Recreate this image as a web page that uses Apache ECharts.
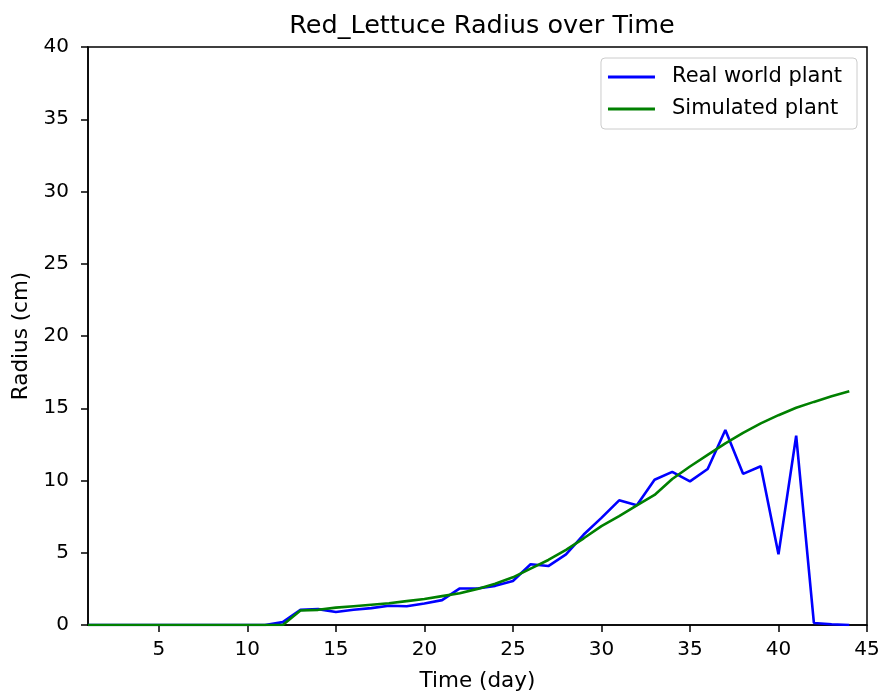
<!DOCTYPE html>
<html>
<head>
<meta charset="utf-8">
<script src="https://cdn.jsdelivr.net/npm/echarts@6/dist/echarts.min.js"></script>
<style>html,body{margin:0;padding:0;background:#fff}#c{width:883px;height:697px}</style>
</head>
<body>
<div id="c"></div>
<script>
const days = [1,2,3,4,5,6,7,8,9,10,11,12,13,14,15,16,17,18,19,20,21,22,23,24,25,26,27,28,29,30,31,32,33,34,35,36,37,38,39,40,41,42,43,44];
const realRadius = [0,0,0,0,0,0,0,0,0,0,0,0.2,1.05,1.1,0.9,1.05,1.17,1.33,1.3,1.49,1.72,2.53,2.53,2.71,3.05,4.2,4.08,4.89,6.26,7.41,8.63,8.28,10.05,10.6,9.94,10.8,13.49,10.46,10.99,4.89,13.1,0.14,0.05,0];
const simRadius = [0,0,0,0,0,0,0,0,0,0,0,0,1.0,1.05,1.2,1.3,1.4,1.5,1.65,1.8,2.0,2.2,2.5,2.85,3.3,3.9,4.5,5.2,6.0,6.84,7.53,8.28,9.0,10.1,10.97,11.77,12.57,13.3,13.95,14.52,15.03,15.44,15.83,16.17];
const xTicks = [5,10,15,20,25,30,35,40,45];
const yTicks = [0,5,10,15,20,25,30,35,40];

const font = 'DejaVu Sans';
const chart = echarts.init(document.getElementById('c'));
chart.setOption({
  animation: false,
  backgroundColor: '#fff',
  title: {
    text: 'Red_Lettuce Radius over Time',
    left: 477, top: 8, textAlign: 'center',
    textStyle: {fontFamily: font, fontSize: 25.5, fontWeight: 'normal', color: '#000'}
  },
  legend: {
    orient: 'vertical', right: 26, top: 58,
    backgroundColor: '#fff', borderColor: '#cccccc', borderWidth: 1, borderRadius: 4,
    padding: [7, 15, 8, 7], itemGap: 8,
    itemWidth: 47, itemHeight: 3, icon: 'rect',
    textStyle: {fontFamily: font, fontSize: 21, lineHeight: 24, color: '#000', padding: [0,0,0,12]},
    data: ['Real world plant', 'Simulated plant']
  },
  grid: {left: 88, right: 16, top: 47, bottom: 69, show: true, borderColor: '#000', borderWidth: 1.5, containLabel: false},
  xAxis: {
    type: 'value', min: 1, max: 45,
    name: 'Time (day)', nameLocation: 'middle', nameGap: 45,
    nameTextStyle: {fontFamily: font, fontSize: 21.5, color: '#000'},
    axisLine: {show: true, onZero: false, lineStyle: {color: '#000', width: 1.5}},
    axisTick: {show: true, length: 7, lineStyle: {color: '#000', width: 1.5}, customValues: xTicks},
    axisLabel: {fontFamily: font, fontSize: 20, color: '#000', margin: 15, customValues: xTicks},
    splitLine: {show: false}
  },
  yAxis: {
    type: 'value', min: 0, max: 40, interval: 5,
    name: 'Radius (cm)', nameLocation: 'middle', nameGap: 54,
    nameTextStyle: {fontFamily: font, fontSize: 21.5, color: '#000'},
    axisLine: {show: true, lineStyle: {color: '#000', width: 1.5}},
    axisTick: {show: true, length: 7, lineStyle: {color: '#000', width: 1.5}},
    axisLabel: {fontFamily: font, fontSize: 20, color: '#000', margin: 19, customValues: yTicks},
    splitLine: {show: false}
  },
  series: [
    {name: 'Real world plant', type: 'line', showSymbol: false, symbol: 'none',
     color: '#0000ff', lineStyle: {color: '#0000ff', width: 2.6},
     data: days.map((d, i) => [d, realRadius[i]])},
    {name: 'Simulated plant', type: 'line', showSymbol: false, symbol: 'none',
     color: '#008000', lineStyle: {color: '#008000', width: 2.6},
     data: days.map((d, i) => [d, simRadius[i]])}
  ]
});
</script>
</body>
</html>
